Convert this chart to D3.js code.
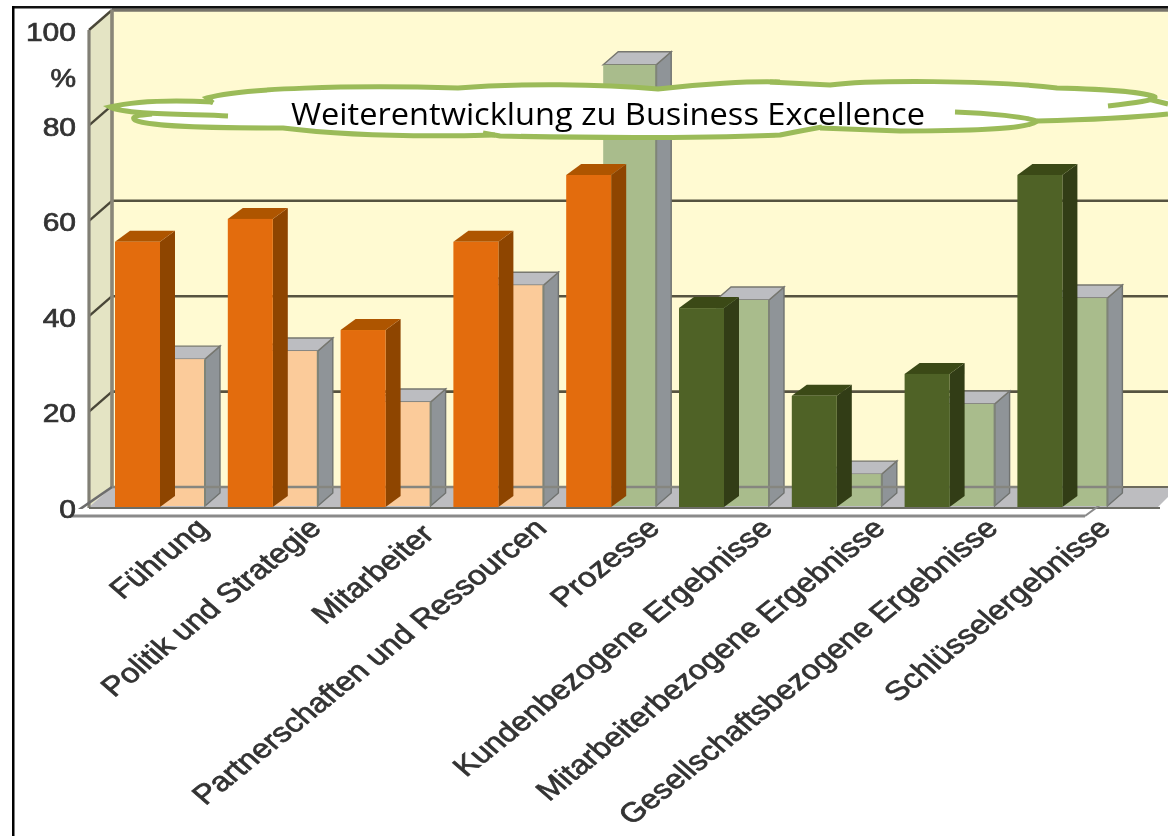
<!DOCTYPE html>
<html><head><meta charset="utf-8">
<style>html,body{margin:0;padding:0;background:#fff;overflow:hidden}svg{display:block}</style>
<script src="https://cdn.jsdelivr.net/npm/d3@7"></script></head>
<body><svg id="c" width="1168" height="836"></svg>
<script>
const categories=["Führung","Politik und Strategie","Mitarbeiter","Partnerschaften und Ressourcen","Prozesse","Kundenbezogene Ergebnisse","Mitarbeiterbezogene Ergebnisse","Gesellschaftsbezogene Ergebnisse","Schlüsselergebnisse"];
const seriesFront=[55.6,60.4,37.1,55.6,69.6,41.7,23.3,27.9,69.6];
const seriesBack=[31,32.7,22,46.5,92.7,43.4,6.9,21.6,43.8];
const frontKinds=["orange","orange","orange","orange","orange","green","green","green","green"];
const backKinds=["orange","orange","orange","orange","green","green","green","green","green"];
const yTicks=[0,20,40,60,80,100];
const title="Weiterentwicklung zu Business Excellence";

const svg=d3.select("#c");
const y=d3.scaleLinear().domain([0,100]).range([507,30]);
const x=d3.scaleBand().domain(categories).range([115,115+112.8*9]);
const W=1168, wallL=89, wallB=112, wallDy=20;
const colors={orange:{f:"#E36C09",s:"#8E4503",t:"#AE5505",lf:"#FBCB9A"},green:{f:"#4F6228",s:"#313C13",t:"#3A4918",lf:"#A9BC8C"}};
const defs=svg.append("defs");
defs.append("filter").attr("id","soft").append("feGaussianBlur").attr("stdDeviation",0.45);
defs.append("filter").attr("id","softT").append("feGaussianBlur").attr("stdDeviation",0.6);
const g=svg.append("g").attr("filter","url(#soft)");
const poly=(p,fill,stroke,sw)=>g.append("path").attr("d","M"+p.map(q=>q.join(",")).join("L")+"Z").attr("fill",fill).attr("stroke",stroke||"none").attr("stroke-width",sw||0);
const line=(a,b,c,w,par)=>(par||g).append("line").attr("x1",a[0]).attr("y1",a[1]).attr("x2",b[0]).attr("y2",b[1]).attr("stroke",c).attr("stroke-width",w);

// back wall, side wall, floor
g.append("rect").attr("x",wallB).attr("y",y(100)-wallDy).attr("width",W-wallB).attr("height",y(0)-y(100)).attr("fill","#FFFAD2");
poly([[wallL,y(100)],[wallB,y(100)-wallDy],[wallB,y(0)-wallDy],[wallL,y(0)]],"#E4E4C4");
poly([[wallL,y(0)],[wallB,y(0)-wallDy],[W,y(0)-wallDy],[W,y(0)-10],[1158,y(0)]],"#BDBDC0");
// grid
yTicks.forEach(v=>{
  if(v>0){line([wallB,y(v)-wallDy],[W,y(v)-wallDy],v===100?"#77736a":"#57533f",v===100?3.5:2.6);
    line([wallL,y(v)],[wallB,y(v)-wallDy],"#4a4638",2.4);}
});
line([wallL,y(100)],[wallL,y(0)+1],"#817f74",3.2);
line([wallB,y(100)-wallDy],[wallB,y(0)-wallDy],"#8a8678",3.6);
line([wallL-19,516],[wallB,y(0)-wallDy],"#6d6d6d",2.6);
line([wallL,y(0)+1],[1160,y(0)+1],"#6d6d66",2.2);
g.append("rect").attr("x",60).attr("y",y(0)+2).attr("width",1108).attr("height",7).attr("fill","#fff");
line([70,516],[1085,516],"#8a8a8a",3);
line([1085,516],[1123,488],"#8a8a8a",2);

// back series
const dBack=37, wBack=53, dxB=15, dyB=13;
categories.forEach((c,i)=>{
  const x0=x(c)+dBack, x1=x0+wBack, t=y(seriesBack[i]), b=y(0)-1, col=colors[backKinds[i]];
  poly([[x1,t],[x1+dxB,t-dyB],[x1+dxB,b-dyB],[x1,b]],"#8F9498","#6f726f",1.4);
  poly([[x0,t],[x0+dxB,t-dyB],[x1+dxB,t-dyB],[x1,t]],"#BCBDC1","#77776f",1.4);
  g.append("rect").attr("x",x0).attr("y",t).attr("width",wBack).attr("height",b-t).attr("fill",col.lf);
  line([x1,t],[x1,b],"#7f8478",2);
});
line([wallB,y(0)-wallDy],[1123,y(0)-wallDy],"#86867f",2.6);
line([1123,y(0)-wallDy],[W,y(0)-wallDy],"#6d6a5c",2);

// front series
const wFront=45, dxF=15, dyF=11;
categories.forEach((c,i)=>{
  const x0=x(c), x1=x0+wFront, t=y(seriesFront[i]), b=y(0), col=colors[frontKinds[i]];
  poly([[x1,t],[x1+dxF,t-dyF],[x1+dxF,b-dyF],[x1,b]],col.s);
  poly([[x0,t],[x0+dxF,t-dyF],[x1+dxF,t-dyF],[x1,t]],col.t);
  g.append("rect").attr("x",x0).attr("y",t).attr("width",wFront).attr("height",b-t).attr("fill",col.f);
});

// texts
const ink="#333";
const tg=svg.append("g").attr("filter","url(#softT)").attr("font-family","'Liberation Sans',Arial,sans-serif").attr("fill",ink).attr("stroke",ink).attr("stroke-width",0.7);
const yAxis=d3.axisLeft(y).tickValues(yTicks).tickSize(0).tickPadding(0);
const ax=tg.append("g").attr("transform","translate(76,0)").call(yAxis);
ax.select(".domain").remove();
ax.selectAll("text").attr("font-family","'Liberation Sans',Arial,sans-serif").attr("font-size",25).attr("fill",ink)
  .attr("transform","scale(1.2,1)").attr("dy","0.40em");
tg.append("text").text("%").attr("transform","translate(76,87) scale(1.15,1)").attr("text-anchor","end").attr("font-size",25);
categories.forEach(c=>{
  tg.append("text").text(c).attr("text-anchor","end").attr("font-size",27.2)
   .attr("transform",`translate(${x(c)+95},${c==="Mitarbeiter"?536:530}) scale(1.2,1) rotate(-44)`);
});

// cloud
const cloudFill="M110,107 C135,101 175,100 213,102 L207,97 C240,88 350,85 458,87 C520,82 600,84 658,88 C700,83 750,81 780,82 L830,85 C870,80 990,80 1057,88 C1100,89 1145,92 1155,98 L1168,100 L1168,112 C1120,119 1080,120 1037,121 C1030,128 990,131 900,131 L820,128 C800,131 790,133 780,135 C700,138 600,138 500,136 L480,133 C420,136 340,134 283,127 C240,128 150,128 135,120 C130,116 140,115 150,114 C125,113 110,111 110,107Z";
svg.append("path").attr("d",cloudFill).attr("fill","#fff");
const strokes=[
 "M228,116 C190,114 125,115 110,107 C135,101 175,100 213,102",
 "M213,103 L207,98 C240,88 350,85 458,88 C520,83 600,84 658,89 C700,84 750,81 780,82",
 "M770,82 L830,85 C870,80 990,80 1057,88 C1100,89 1145,92 1155,97 C1156,100 1135,103 1108,106",
 "M1148,99 L1168,104 M1168,114 C1120,119 1080,120 1037,121 C1025,117 990,113 955,112",
 "M1037,121 C1030,128 990,131 900,131 L820,128",
 "M822,127 C800,131 790,133 780,135 C700,138 600,138 500,136 L483,133",
 "M495,135 C420,137 340,135 283,128 C240,128 150,128 135,120 C130,116 140,115 152,114"
];
strokes.forEach(d=>svg.append("path").attr("d",d).attr("fill","none").attr("stroke","#9BBB59").attr("stroke-width",5));
svg.append("text").text(title).attr("x",291).attr("y",125).attr("font-family","'Open Sans',Lato,sans-serif").attr("font-size",31).attr("fill","#000").attr("textLength",634).attr("lengthAdjust","spacingAndGlyphs");

// frame
svg.append("rect").attr("x",12).attr("y",6).attr("width",1156).attr("height",2.5).attr("fill","#111");
svg.append("rect").attr("x",12).attr("y",6).attr("width",2.5).attr("height",830).attr("fill","#000");
</script></body></html>
